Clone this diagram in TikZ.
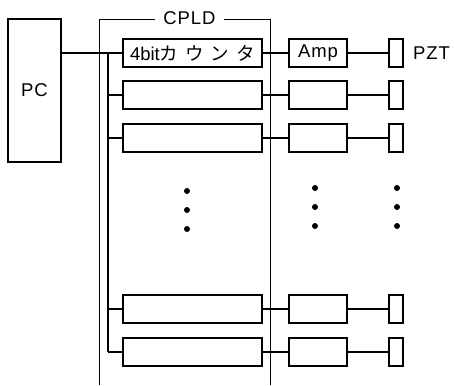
\documentclass[tikz,border=0pt]{standalone}
\usepackage{fontspec}
\setmainfont{Liberation Sans}[LetterSpace=5]
\newfontfamily\plainlat{Liberation Sans}
\newfontfamily\jp{Noto Sans CJK JP}[LetterSpace=38]
\begin{document}
\begin{tikzpicture}[x=1pt,y=-1pt,
  box/.style={draw, line width=2pt, inner sep=0pt, minimum height=28pt, font=\fontsize{18.5}{21}\selectfont},
  cbox/.style={box, minimum width=139pt},
  abox/.style={box, minimum width=58pt},
  pbox/.style={box, minimum width=14pt},
  conn/.style={line width=2pt},
  frame/.style={line width=1pt},
  lbl/.style={font=\fontsize{18.5}{21}\selectfont, inner sep=0pt},
  dotn/.style={circle, fill, inner sep=0pt, minimum size=6pt}]
\useasboundingbox (0,0) rectangle (454,385);
% CPLD frame
\draw[frame] (99.5,385) -- (99.5,19.5) -- (270.5,19.5) -- (270.5,385);
\node[lbl, fill=white, inner xsep=8pt, inner ysep=2pt] (cpld) at (189.5,18.5) {CPLD};
% PC
\node[box, minimum width=53pt, minimum height=143pt] (pc) at (34.5,90.5) {PC};
% rows
\foreach \i/\y in {1/53,2/95,3/138,4/309,5/352}{
  \coordinate (b\i) at (108,\y);
  \node[pbox] (p\i) at (396,\y) {};
}
\node[cbox] (c1) at (192.5,53) {{\plainlat 4bit}{\jp カウンタ}};
\node[cbox] (c2) at (192.5,95) {};
\node[cbox] (c3) at (192.5,138) {};
\node[cbox] (c4) at (192.5,309) {};
\node[cbox] (c5) at (192.5,352) {};
\node[abox] (a1) at (318,53) {Amp};
\node[abox] (a2) at (318,95) {};
\node[abox] (a3) at (318,138) {};
\node[abox] (a4) at (318,309) {};
\node[abox] (a5) at (318,352) {};
\node[lbl, anchor=west] (pzt) at (413,53) {PZT};
% connectors
\draw[conn] (pc.east |- c1) -- (c1.west);
\draw[conn] (b1) -- (b5);
\foreach \i in {2,3,4,5}{ \draw[conn] (b\i) -- (c\i.west); }
\foreach \i in {1,...,5}{
  \draw[conn] (c\i.east) -- (a\i.west);
  \draw[conn] (a\i.east) -- (p\i.west);
}
% dots
\foreach \y [count=\k] in {191,210,229}{ \node[dotn] (dc\k) at (187,\y) {}; }
\foreach \y [count=\k] in {188,207,226}{
  \node[dotn] (da\k) at (315,\y) {};
  \node[dotn] (dp\k) at (397,\y) {};
}
\end{tikzpicture}
\end{document}
